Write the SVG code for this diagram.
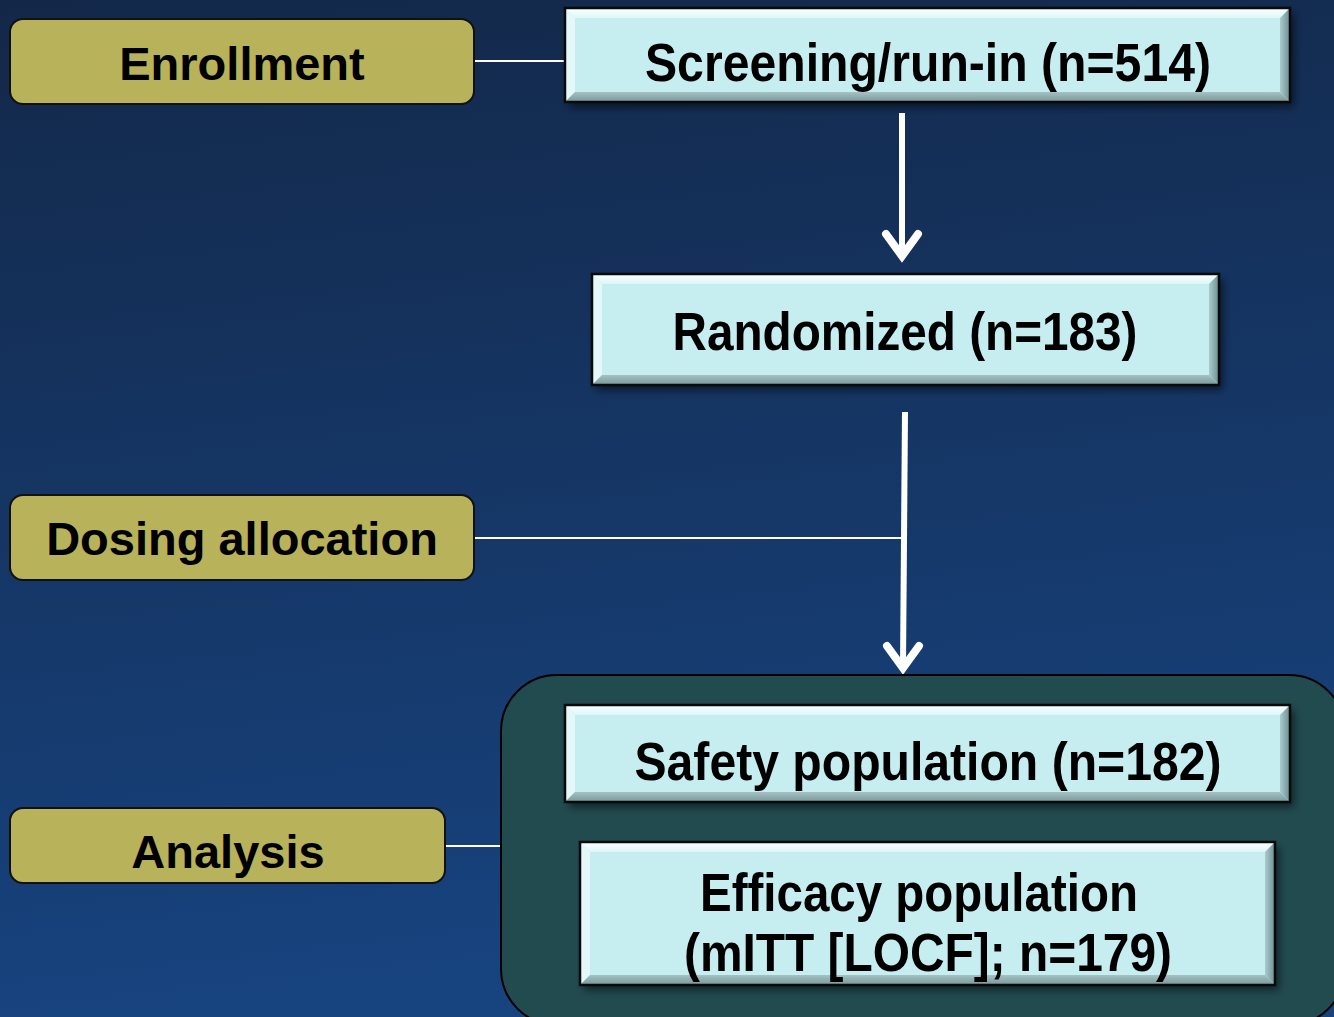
<svg xmlns="http://www.w3.org/2000/svg" width="1334" height="1017" viewBox="0 0 1334 1017">
<defs>
<linearGradient id="bg" x1="0" y1="0" x2="0.15" y2="1">
<stop offset="0" stop-color="#132849"/>
<stop offset="1" stop-color="#17437f"/>
</linearGradient>
<linearGradient id="topBev" x1="0" y1="0" x2="0" y2="1">
<stop offset="0" stop-color="#ffffff"/>
<stop offset="1" stop-color="#dcf6f7"/>
</linearGradient>
<linearGradient id="rightBev" x1="0" y1="0" x2="1" y2="0">
<stop offset="0" stop-color="#a9cbcd"/>
<stop offset="1" stop-color="#6d8e91"/>
</linearGradient>
<linearGradient id="botBev" x1="0" y1="0" x2="0" y2="1">
<stop offset="0" stop-color="#a3c2c4"/>
<stop offset="1" stop-color="#7a9699"/>
</linearGradient>
<filter id="shadow" x="-5%" y="-10%" width="115%" height="130%">
<feDropShadow dx="4" dy="5" stdDeviation="4" flood-color="#000" flood-opacity="0.55"/>
</filter>
</defs>
<style>
.lbl{fill:#b8b25a;stroke:#111;stroke-width:2}
.lt{font-family:"Liberation Sans",Arial,sans-serif;font-weight:bold;font-size:47px;fill:#000;text-anchor:middle}
.bt{font-family:"Liberation Sans",Arial,sans-serif;font-weight:bold;font-size:54px;fill:#000;text-anchor:middle}
.face{fill:#c6eef0}
.edge{fill:none;stroke:#0a0a0a;stroke-width:2.5}
.conn{stroke:#fff;stroke-width:2;fill:none}
.arr{stroke:#fff;stroke-width:6;fill:none}
.head{stroke:#fff;stroke-width:8;fill:none;stroke-linecap:round;stroke-linejoin:miter}
</style>
<rect x="0" y="0" width="1334" height="1017" fill="url(#bg)"/>

<g id="connectors">
<line class="conn" x1="474" y1="61" x2="565" y2="61"/>
<line class="conn" x1="474" y1="538" x2="903" y2="538"/>
<line class="conn" x1="445" y1="846" x2="501" y2="846"/>
<line class="arr" x1="902" y1="113" x2="902" y2="255"/>
<polyline class="head" points="886,234 902,256 918,234"/>
<line class="arr" x1="905" y1="412" x2="903" y2="668"/>
<polyline class="head" points="887,646 903,668 919,646"/>
</g>

<g id="enrollment">
<rect class="lbl" x="10" y="19" width="464" height="85" rx="13"/>
<text class="lt" x="242" y="80">Enrollment</text>
</g>
<g id="dosing">
<rect class="lbl" x="10" y="495" width="464" height="85" rx="13"/>
<text class="lt" x="242" y="555">Dosing allocation</text>
</g>
<g id="analysis">
<rect class="lbl" x="10" y="808" width="435" height="75" rx="13"/>
<text class="lt" x="228" y="868">Analysis</text>
</g>

<g id="screening">
<g filter="url(#shadow)"><rect class="face" x="565" y="8" width="725" height="94"/></g>
<polygon fill="url(#topBev)" points="565,8 1290,8 1280,18 575,18"/>
<polygon fill="#e4f8f9" points="565,8 575,18 575,92 565,102"/>
<polygon fill="url(#rightBev)" points="1290,8 1290,102 1280,92 1280,18"/>
<polygon fill="url(#botBev)" points="565,102 575,92 1280,92 1290,102"/>
<rect class="edge" x="565" y="8" width="725" height="94"/>
<text class="bt" x="928" y="81" textLength="566" lengthAdjust="spacingAndGlyphs">Screening/run-in (n=514)</text>
</g>

<g id="randomized">
<g filter="url(#shadow)"><rect class="face" x="592" y="274" width="627" height="111"/></g>
<polygon fill="url(#topBev)" points="592,274 1219,274 1209,284 602,284"/>
<polygon fill="#e4f8f9" points="592,274 602,284 602,375 592,385"/>
<polygon fill="url(#rightBev)" points="1219,274 1219,385 1209,375 1209,284"/>
<polygon fill="url(#botBev)" points="592,385 602,375 1209,375 1219,385"/>
<rect class="edge" x="592" y="274" width="627" height="111"/>
<text class="bt" x="905" y="350" textLength="465" lengthAdjust="spacingAndGlyphs">Randomized (n=183)</text>
</g>

<g id="analysis-group">
<rect x="501" y="675" width="844" height="350" rx="56" fill="#224b50" stroke="#000" stroke-width="2"/>
</g>

<g id="safety">
<g filter="url(#shadow)"><rect class="face" x="565" y="705" width="725" height="97"/></g>
<polygon fill="url(#topBev)" points="565,705 1290,705 1280,715 575,715"/>
<polygon fill="#e4f8f9" points="565,705 575,715 575,792 565,802"/>
<polygon fill="url(#rightBev)" points="1290,705 1290,802 1280,792 1280,715"/>
<polygon fill="url(#botBev)" points="565,802 575,792 1280,792 1290,802"/>
<rect class="edge" x="565" y="705" width="725" height="97"/>
<text class="bt" x="928" y="780" textLength="587" lengthAdjust="spacingAndGlyphs">Safety population (n=182)</text>
</g>

<g id="efficacy">
<g filter="url(#shadow)"><rect class="face" x="580" y="842" width="695" height="143"/></g>
<polygon fill="url(#topBev)" points="580,842 1275,842 1265,852 590,852"/>
<polygon fill="#e4f8f9" points="580,842 590,852 590,975 580,985"/>
<polygon fill="url(#rightBev)" points="1275,842 1275,985 1265,975 1265,852"/>
<polygon fill="url(#botBev)" points="580,985 590,975 1265,975 1275,985"/>
<rect class="edge" x="580" y="842" width="695" height="143"/>
<text class="bt" x="919" y="911" textLength="438" lengthAdjust="spacingAndGlyphs">Efficacy population</text>
<text class="bt" x="928" y="971" textLength="488" lengthAdjust="spacingAndGlyphs">(mITT [LOCF]; n=179)</text>
</g>
</svg>
